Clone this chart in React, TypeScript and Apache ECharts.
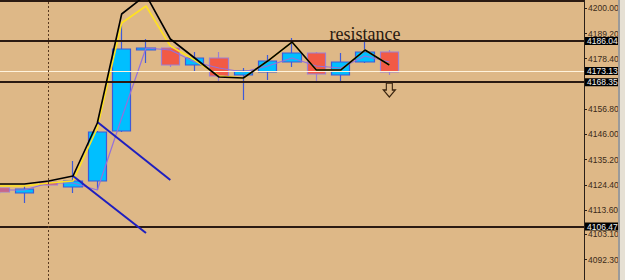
import React, { useEffect, useRef } from "react";
import * as echarts from "echarts";

// Bars (category slots; the last ones are empty future bars)
const bars = ["b0","b1","b2","b3","b4","b5","b6","b7","b8","b9","b10","b11","b12","b13","b14","b15","b16","b17","b18","b19","b20","b21","b22","b23","b24"];

// OHLC values
const opens = [4123.01, 4120.87, 4125.58, 4123.44, 4126.01, 4147.43, 4182.13, 4182.99, 4175.71, 4178.71, 4171.42, 4172.71, 4176.99, 4180.85, 4171.42, 4176.99, 4181.28];
const closes = [4121.29, 4122.58, 4124.29, 4126.01, 4147.0, 4182.56, 4182.99, 4175.71, 4178.71, 4170.99, 4173.14, 4177.42, 4180.85, 4171.85, 4176.99, 4181.28, 4172.71];
const lows = [4120.44, 4116.58, 4123.44, 4120.87, 4122.15, 4147.0, 4176.56, 4174.85, 4172.71, 4168.42, 4160.71, 4169.28, 4174.85, 4168.42, 4168.0, 4176.56, 4171.42];
const highs = [4123.86, 4123.86, 4126.44, 4134.58, 4147.43, 4192.84, 4186.85, 4183.85, 4181.28, 4181.28, 4174.42, 4179.99, 4187.28, 4181.28, 4180.85, 4185.56, 4182.13];

// Indicator lines
const blackLine = [4124.72, 4124.72, 4126.01, 4128.15, 4150.86, 4197.56, 4205.7, 4186.85, 4178.71, 4170.57, 4170.14, 4177.42, 4185.56, 4173.56, 4173.56, 4182.13, 4175.71];
const yellowLine = [4123.86, 4123.86, 4125.15, 4126.01, 4148.71, 4193.7, 4200.99, 4183.85, 4177.85, 4171.0, 4170.14, 4177.42, 4185.56, 4173.56, 4173.56, 4182.13, 4175.71];
const purpleLine = [4122.15, 4122.15, 4125.15, 4125.15, 4122.15, 4153.0, 4182.99, 4182.13, 4176.99, 4174.42, 4172.71, 4175.28, 4178.71, 4175.28, 4174.42, 4179.56, 4176.99];

// Horizontal price levels
const levelLines = [4186.04, 4168.35, 4106.47];
const bidLine = 4173.13;
const topLine = 4203.2;

// Trend lines: [barIndex, price] pairs
const trend1 = [[3, 4128.15], [6, 4103.73]];
const trend2 = [[4, 4151.28], [7, 4126.44]];
const dashedBar = 2;

// Axis
const yMin = 4083.59;
const yMax = 4203.56;
const yTicks = [4200.0, 4189.2, 4178.4, 4156.8, 4146.0, 4135.2, 4124.4, 4113.6, 4103.1, 4092.3];

// Annotations
const resistanceLabel = { text: "resistance", bar: 15, price: 4188.99 };
const arrowMark = { bar: 16, price: 4165.0 };

const labelFont = "'Liberation Sans Narrow', 'Liberation Sans', Arial, sans-serif";

export default function App() {
  const ref = useRef<HTMLDivElement>(null);
  useEffect(() => {
    if (!ref.current) return;
    const chart = echarts.init(ref.current, null, { renderer: "svg" });
    const ohlc = opens.map((o, i) => [o, closes[i], lows[i], highs[i]]);
    const boxLabel = {
      show: true,
      position: "end" as const,
      distance: 1,
      formatter: (p: any) => Number(p.value).toFixed(2),
      backgroundColor: "#000",
      color: "#f2f2f2",
      fontFamily: labelFont,
      fontSize: 8.5,
      lineHeight: 8,
      padding: [0, 2, 0, 2],
    };
    chart.setOption({
      animation: false,
      backgroundColor: "#DEB887",
      grid: { left: 0, right: 41, top: 0, bottom: 0 },
      xAxis: {
        type: "category",
        data: bars,
        boundaryGap: false,
        show: false,
      },
      yAxis: {
        type: "value",
        position: "right",
        min: yMin,
        max: yMax,
        splitLine: { show: false },
        axisLine: { show: true, lineStyle: { color: "#2a1f18", width: 1 } },
        axisTick: { show: true, length: 3, customValues: yTicks, lineStyle: { color: "#2a1f18" } },
        axisLabel: {
          customValues: yTicks,
          margin: 4,
          color: "#3a2a1a",
          fontFamily: labelFont,
          fontSize: 8.5,
          lineHeight: 8,
          formatter: (v: number) => v.toFixed(2),
          hideOverlap: false,
        },
      },
      graphic: [
        { type: "rect", right: 5, top: 0, shape: { width: 2, height: 280 }, style: { fill: "#9a9a9a" }, z: 10 },
        { type: "rect", right: 0, top: 0, shape: { width: 5, height: 280 }, style: { fill: "#e6e0d4" }, z: 10 },
      ],
      series: [
        {
          type: "candlestick",
          data: ohlc,
          barWidth: 19,
          itemStyle: {
            color: "#00BFFF",
            color0: "#F25A45",
            borderColor: "#3f5ad8",
            borderColor0: "#9b7fd4",
            borderWidth: 1.2,
          },
          markLine: {
            symbol: "none",
            silent: true,
            data: [
              ...levelLines.map((v) => ({
                yAxis: v,
                lineStyle: { color: "#2b1a12", width: 2, type: "solid" },
                label: boxLabel,
              })),
              {
                yAxis: bidLine,
                lineStyle: { color: "#fff3dc", width: 1, type: "solid" },
                label: boxLabel,
              },
              {
                yAxis: topLine,
                lineStyle: { color: "#2b1a12", width: 2, type: "solid" },
                label: { show: false },
              },
              {
                xAxis: dashedBar,
                lineStyle: { color: "#5a3a20", width: 1, type: [2, 2] },
                label: { show: false },
              },
            ],
          },
          z: 2,
        },
        {
          type: "line",
          data: purpleLine,
          symbol: "none",
          lineStyle: { color: "#9370DB", width: 1.2 },
          z: 3,
        },
        {
          type: "line",
          data: yellowLine,
          symbol: "none",
          lineStyle: { color: "#FFE21F", width: 1.6 },
          z: 4,
        },
        {
          type: "line",
          data: blackLine,
          symbol: "none",
          lineStyle: { color: "#000000", width: 1.6 },
          z: 5,
          markLine: {
            symbol: "none",
            silent: true,
            label: { show: false },
            lineStyle: { color: "#1f1fbf", width: 2, type: "solid" },
            data: [
              [{ coord: trend1[0] }, { coord: trend1[1] }],
              [{ coord: trend2[0] }, { coord: trend2[1] }],
            ],
          },
          markPoint: {
            silent: true,
            data: [
              {
                coord: [resistanceLabel.bar, resistanceLabel.price],
                symbol: "rect",
                symbolSize: 1,
                itemStyle: { color: "transparent" },
                label: {
                  show: true,
                  position: "inside",
                  formatter: resistanceLabel.text,
                  fontFamily: "'Liberation Serif', 'Times New Roman', serif",
                  fontSize: 18,
                  color: "#2a1a10",
                },
              },
              {
                coord: [arrowMark.bar, arrowMark.price],
                symbol: "path://M3,0 L9,0 L9,7 L12,7 L6,14 L0,7 L3,7 Z",
                symbolSize: [12, 14],
                itemStyle: { color: "transparent", borderColor: "#3a2510", borderWidth: 1.2 },
                label: { show: false },
              },
            ],
          },
        },
      ],
    });
    return () => chart.dispose();
  }, []);
  return (
    <div
      ref={ref}
      style={{ position: "fixed", left: 0, top: 0, width: 625, height: 280 }}
    />
  );
}
